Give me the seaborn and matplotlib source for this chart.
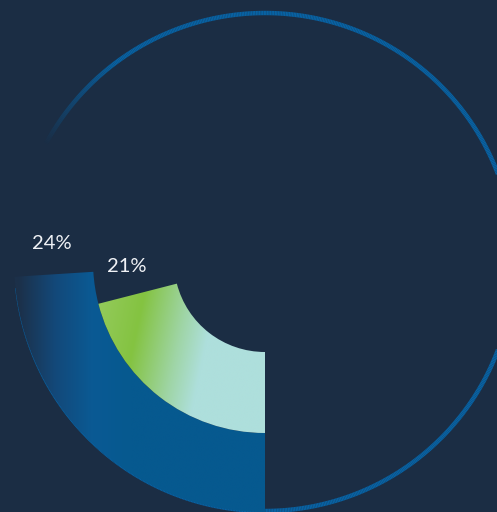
import numpy as np
import matplotlib
matplotlib.use('Agg')
import matplotlib.pyplot as plt
from matplotlib.patches import Wedge
from matplotlib.collections import LineCollection
from matplotlib.colors import LinearSegmentedColormap, to_rgb
import seaborn as sns

# datos del grafico
labels = ['24%', '21%']
values = [24, 21]

bg = '#1b2d44'
sns.set_style('white', {'axes.facecolor': bg, 'figure.facecolor': bg})
plt.rcParams['font.family'] = ['Lato', 'DejaVu Sans']

fig = plt.figure(figsize=(4.97, 5.12), dpi=100)
ax = fig.add_axes([0, 0, 1, 1])
# centro del grafico en (0, 0)
ax.set_xlim(-265, 232)
ax.set_ylim(-251, 261)
ax.set_aspect('equal')
ax.axis('off')

# anillos: (radio exterior, grosor)
rings = [(251, 79), (172, 81)]

# paletas de degradado
blue_cmap = sns.blend_palette(['#1c3049', '#13497a', '#0a5a94', '#06598f'], as_cmap=True)
green_cmap = LinearSegmentedColormap.from_list(
    'verde', [(0, '#93ca5a'), (0.3, '#84c341'), (0.62, '#9fd5a6'), (0.82, '#aedfdc'), (1, '#aedfdc')])

xx, yy = np.meshgrid(np.linspace(-265, 0, 400), np.linspace(-251, 0, 400))
ext = (-265, 0, -251, 0)

# anillo azul (degradado horizontal)
r_out, w = rings[0]
wedge = Wedge((0, 0), r_out, 270 - values[0] / 100 * 360, 270, width=w, transform=ax.transData)
t = np.clip((xx + 247) / 112, 0, 1)
im = ax.imshow(t, extent=ext, origin='lower', cmap=blue_cmap,
               vmin=0, vmax=1, interpolation='bilinear', zorder=3)
im.set_clip_path(wedge)

# anillo verde (degradado inclinado)
r_out, w = rings[1]
wedge2 = Wedge((0, 0), r_out, 270 - values[1] / 100 * 360, 270, width=w, transform=ax.transData)
t2 = np.clip((xx - 0.21 * yy + 156) / 140, 0, 1)
im2 = ax.imshow(t2, extent=ext, origin='lower', cmap=green_cmap,
                vmin=0, vmax=1, interpolation='bilinear', zorder=4)
im2.set_clip_path(wedge2)

# circulo de fondo con desvanecimiento
r_track = 249
cy = -1
ang = np.linspace(152, -174, 900)
px = r_track * np.cos(np.radians(ang))
py = cy + r_track * np.sin(np.radians(ang))
pts = np.column_stack([px, py]).reshape(-1, 1, 2)
segs = np.concatenate([pts[:-1], pts[1:]], axis=1)
alpha = np.clip((152 - ang[:-1]) / 25, 0, 1)
cols = np.zeros((len(segs), 4))
cols[:, :3] = to_rgb('#0862a3')
cols[:, 3] = alpha
lc = LineCollection(segs, colors=cols, linewidths=3.2, capstyle='butt', zorder=2)
ax.add_collection(lc)

# etiquetas
label_pos = [(214, 8.4), (138, 12.3)]
for lab, v, (r, off) in zip(labels, values, label_pos):
    a = np.radians(270 - v / 100 * 360 - off)
    ax.text(r * np.cos(a), r * np.sin(a), lab, color='#f0f2f6', fontsize=14.5,
            ha='center', va='center', zorder=5)

plt.savefig('out.png', dpi=100, facecolor=bg)
